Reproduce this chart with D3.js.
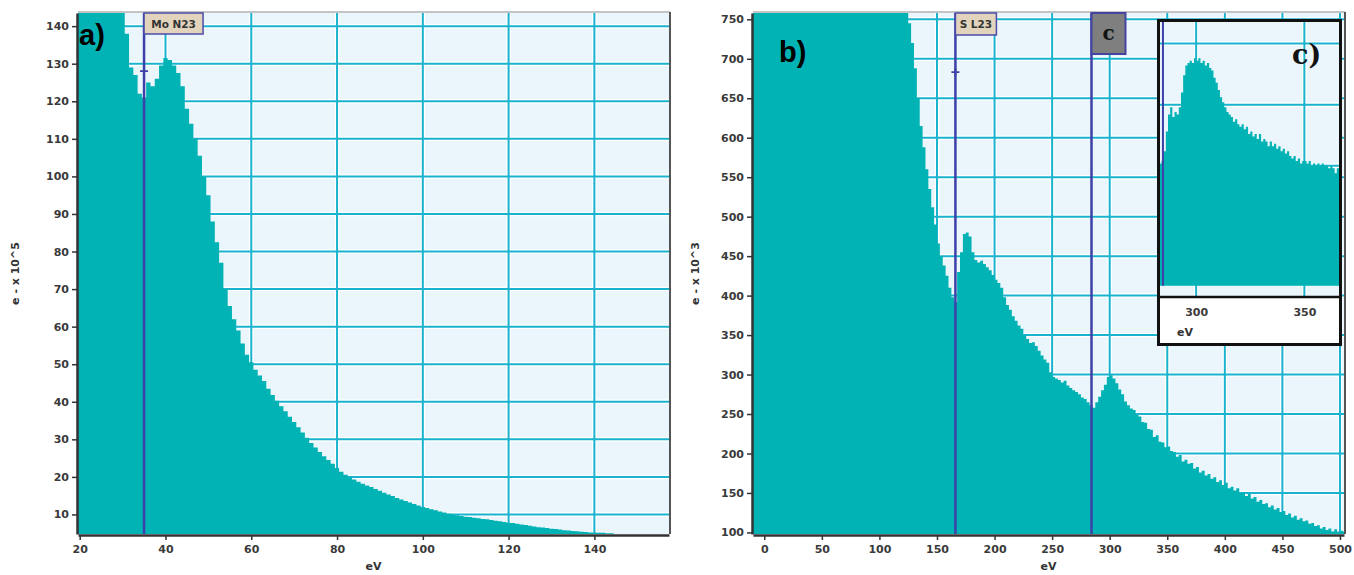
<!DOCTYPE html>
<html>
<head>
<meta charset="utf-8">
<script src="https://cdn.jsdelivr.net/npm/d3@7"></script>
<style>
  body { margin: 0; background: #fff; }
  text { font-family: "DejaVu Sans", sans-serif; }
</style>
</head>
<body>
<svg id="chart"></svg>
<script>
// Panel a: Mo N23 edge, 1 eV bins starting at 19.5 eV (counts in e- x 10^5)
const aBinStart = 19.5;
const aBinWidth = 1;
const aCounts = [
  190, 186, 182, 178, 174, 170, 166, 162, 158, 154, 150,
  138, 129, 127, 122, 121, 125, 124, 126, 129.5, 131.5,
  131, 129.5, 127.5, 124, 118, 114, 110, 105.5, 100, 95,
  88, 82.5, 77, 70, 65.5, 62, 59, 55.5, 52.5, 50.5,
  48.5, 47, 45.5, 43.5, 41.8, 40.3, 38.8, 37.5, 36, 34.6,
  33.2, 31.8, 30.4, 29, 27.8, 26.6, 25.5, 24.5, 23.5, 22.4,
  21.4, 20.6, 19.9, 19.3, 18.7, 18.2, 17.7, 17.3, 16.8, 16.3,
  15.8, 15.3, 14.9, 14.4, 14.0, 13.6, 13.2, 12.8, 12.4, 12.0,
  11.7, 11.4, 11.1, 10.8, 10.5, 10.2, 10.0, 9.8, 9.6, 9.4,
  9.3, 9.1, 9.0, 8.8, 8.7, 8.5, 8.3, 8.2, 8.0, 7.8,
  7.7, 7.5, 7.3, 7.2, 7.0, 6.8, 6.6, 6.5, 6.4, 6.2,
  6.1, 6.0, 5.8, 5.7, 5.6, 5.5, 5.4, 5.3, 5.2, 5.2,
  5.1, 5.1, 5.0, 5.0
];
const aYTicks = [10, 20, 30, 40, 50, 60, 70, 80, 90, 100, 110, 120, 130, 140];
const aXTicks = [20, 40, 60, 80, 100, 120, 140];

// Panel b: S L23 edge, 2.5 eV bins starting at -10 eV (counts in e- x 10^3)
const bBinStart = -10;
const bBinWidth = 2.5;
const bCounts = [
  1500, 1800, 2100, 2300, 2400, 2300, 2100, 1900, 1750, 1650,
  1600, 1580, 1560, 1540, 1520, 1500, 1480, 1460, 1440, 1420,
  1400, 1380, 1360, 1340, 1320, 1300, 1280, 1260, 1240, 1220,
  1200, 1180, 1160, 1140, 1110, 1080, 1050, 1020, 1000, 980,
  960, 940, 920, 900, 880, 865, 850, 835, 820, 805,
  792, 780, 770, 762,
  745, 720, 688, 650, 615, 588, 560, 535, 512, 490,
  466, 450, 438, 425, 410, 398, 392, 430, 455, 478,
  480, 475, 455, 445, 442, 444, 440, 436, 432, 426,
  420, 416, 410, 398, 388, 382, 374, 368, 362, 358,
  350, 345, 340, 341, 336, 330, 324, 319, 315, 303,
  297, 295, 293, 290, 292, 286, 283, 280, 278, 275,
  271, 269, 265, 261, 258, 265, 272, 280, 287, 297,
  299, 295, 289, 281, 275, 266, 261, 257, 255, 249,
  247, 240, 239, 231, 230, 221, 223, 215, 214, 208,
  209, 203, 202, 196, 198, 190, 192, 187, 188, 181,
  183, 176, 178, 172, 174, 168, 170, 164, 166, 160,
  163, 156, 158, 153, 156, 150, 151, 146, 149, 143,
  145, 139, 141, 136, 137, 132, 134, 129, 131, 126,
  127, 122, 124, 119, 121, 116, 118, 114, 115, 111,
  112, 108, 109, 105, 107, 103, 105, 101, 104, 100,
  102, 101
];
const bYTicks = [100, 150, 200, 250, 300, 350, 400, 450, 500, 550, 600, 650, 700, 750];
const bXTicks = [0, 50, 100, 150, 200, 250, 300, 350, 400, 450, 500];

// Inset c: zoom on the C K region, 1 eV bins starting at 283 eV
const cBinStart = 283;
const cBinWidth = 1;
const cCounts = [
  251, 252, 256, 264, 271, 274, 270, 272, 271, 274,
  280, 287, 291, 292, 293, 292, 294, 293, 294, 292,
  293, 291, 292, 290, 289, 286, 284, 281, 278, 276,
  274, 272, 271, 270, 268, 269, 267, 266, 267, 265,
  266, 263, 264, 262, 263, 261, 263, 260, 261, 260,
  258, 260, 258, 259, 257, 258, 256, 257, 255, 256,
  254, 253, 254, 252, 253, 251, 252, 252, 251, 252,
  250, 251, 250, 251, 250, 251, 250, 250, 249, 250,
  249, 247, 249, 249
];
const cBaseline = 201;
const cYTicks = [225, 250, 275, 300];
const cXTicks = [300, 350];

// Edge markers
const aMarker = { label: "Mo N23", energy: 35, value: 128 };
const bMarker = { label: "S L23", energy: 166, value: 683 };
const cMarker = { label: "c", energy: 284.2 };

const width = 1354, height = 575;
const fillColor = "#02b3b5";
const gridColor = "#1ab3cf";
const plotBg = "#eaf6fc";
const markerColor = "#3d40a8";

const svg = d3.select("#chart").attr("width", width).attr("height", height);

function toBins(start, w, counts) {
  const pts = counts.map((c, i) => ({ e: start + i * w, v: c }));
  pts.push({ e: start + counts.length * w, v: counts[counts.length - 1] });
  return pts;
}

function drawGrid(g, x, y, xTicks, yTicks, box) {
  const lines = [];
  yTicks.forEach(t => lines.push([box.x0, y(t), box.x1, y(t)]));
  xTicks.forEach(t => lines.push([x(t), box.y0, x(t), box.y1]));
  g.selectAll(null).data(lines).enter().append("line")
    .attr("x1", d => d[0]).attr("y1", d => d[1]).attr("x2", d => d[2]).attr("y2", d => d[3])
    .attr("stroke", "#ffffff").attr("stroke-width", 4.5);
  g.selectAll(null).data(lines).enter().append("line")
    .attr("x1", d => d[0]).attr("y1", d => d[1]).attr("x2", d => d[2]).attr("y2", d => d[3])
    .attr("stroke", gridColor).attr("stroke-width", 2);
}

function drawPanel(p) {
  const box = p.box;
  const x = d3.scaleLinear().domain(p.xDomain).range([box.x0, box.x1]);
  const y = d3.scaleLinear().domain(p.yDomain).range([box.y1, box.y0]);
  const g = svg.append("g");

  g.append("rect").attr("x", box.x0).attr("y", box.y0)
    .attr("width", box.x1 - box.x0).attr("height", box.y1 - box.y0).attr("fill", plotBg);

  drawGrid(g, x, y, p.xTicks, p.yTicks, box);

  g.append("clipPath").attr("id", p.id + "-clip").append("rect")
    .attr("x", box.x0).attr("y", box.y0)
    .attr("width", box.x1 - box.x0).attr("height", box.y1 - box.y0);

  const area = d3.area().curve(d3.curveStepAfter)
    .x(d => x(d.e)).y0(box.y1).y1(d => y(d.v));
  g.append("path").datum(p.bins).attr("clip-path", `url(#${p.id}-clip)`)
    .attr("fill", fillColor).attr("d", area);

  // frame: light top, dark right
  g.append("line").attr("x1", box.x0).attr("x2", box.x1 + 1).attr("y1", box.y0 - 1).attr("y2", box.y0 - 1)
    .attr("stroke", "#b0b0b0").attr("stroke-width", 1.5);
  g.append("line").attr("x1", box.x1 + 1).attr("x2", box.x1 + 1).attr("y1", box.y0 - 1).attr("y2", box.y1)
    .attr("stroke", "#555").attr("stroke-width", 2);

  // axes
  const yAxis = g.append("g").attr("transform", `translate(${box.x0 - 1},0)`)
    .call(d3.axisLeft(y).tickValues(p.yTicks).tickSize(5).tickPadding(3).tickSizeOuter(0));
  const xAxis = g.append("g").attr("transform", `translate(0,${box.y1 + 1})`)
    .call(d3.axisBottom(x).tickValues(p.xTicks).tickSize(5).tickPadding(5).tickSizeOuter(0));
  [yAxis, xAxis].forEach(a => {
    a.select(".domain").attr("stroke", "#333").attr("stroke-width", 2.5);
    a.selectAll(".tick line").attr("stroke", "#333").attr("stroke-width", 1.5);
    a.selectAll(".tick text").attr("fill", "#3a3a3a").style("font-size", "11px").style("font-weight", "bold");
  });

  g.append("text").attr("x", (box.x0 + box.x1) / 2).attr("y", 570)
    .attr("text-anchor", "middle").attr("fill", "#333")
    .style("font-size", "11px").style("font-weight", "bold").text("eV");

  g.append("text")
    .attr("transform", `translate(${p.yLabelX},${(box.y0 + box.y1) / 2}) rotate(-90)`)
    .attr("text-anchor", "middle").attr("dy", "0.35em").attr("fill", "#333")
    .style("font-size", "11px").style("font-weight", "bold").text(p.yLabel);

  return { g, x, y };
}

function drawMarker(panel, box, m, withCross) {
  const { g, x, y } = panel;
  const mx = x(m.energy);
  g.append("line").attr("x1", mx).attr("x2", mx).attr("y1", box.y0).attr("y2", box.y1)
    .attr("stroke", markerColor).attr("stroke-width", 2.5);
  if (withCross) {
    const my = y(m.value);
    g.append("path").attr("d", `M${mx - 4},${my}H${mx + 4}M${mx},${my - 4}V${my + 4}`)
      .attr("stroke", markerColor).attr("stroke-width", 1.8);
  }
}

// ---- panel a
const aBox = { x0: 78, x1: 669, y0: 13, y1: 534 };
const pa = drawPanel({
  id: "a", box: aBox, xDomain: [19.6, 157.4], yDomain: [4.8, 143.5],
  xTicks: aXTicks, yTicks: aYTicks, bins: toBins(aBinStart, aBinWidth, aCounts),
  yLabel: "e - x 10^5", yLabelX: 15
});
drawMarker(pa, aBox, aMarker, true);
pa.g.append("rect").attr("x", pa.x(aMarker.energy)).attr("y", 13).attr("width", 59).attr("height", 21)
  .attr("fill", "#e2d3bd").attr("stroke", "#4c4ca8").attr("stroke-width", 1.5);
pa.g.append("text").attr("x", pa.x(aMarker.energy) + 29.5).attr("y", 27.5).attr("text-anchor", "middle")
  .attr("fill", "#333").style("font-size", "10.5px").style("font-weight", "bold").text(aMarker.label);
pa.g.append("text").attr("x", 79).attr("y", 45).attr("fill", "#000")
  .style("font-family", "Liberation Sans, Arial, sans-serif").style("font-size", "29px").style("font-weight", "bold").text("a)");

// ---- panel b
const bBox = { x0: 753, x1: 1344, y0: 13, y1: 534 };
const pb = drawPanel({
  id: "b", box: bBox, xDomain: [-9.8, 503.5], yDomain: [98, 758],
  xTicks: bXTicks, yTicks: bYTicks, bins: toBins(bBinStart, bBinWidth, bCounts),
  yLabel: "e - x 10^3", yLabelX: 695
});
drawMarker(pb, bBox, bMarker, true);
pb.g.append("rect").attr("x", pb.x(bMarker.energy)).attr("y", 13).attr("width", 41).attr("height", 22)
  .attr("fill", "#e2d3bd").attr("stroke", "#4c4ca8").attr("stroke-width", 1.5);
pb.g.append("text").attr("x", pb.x(bMarker.energy) + 20.5).attr("y", 28).attr("text-anchor", "middle")
  .attr("fill", "#333").style("font-size", "10.5px").style("font-weight", "bold").text(bMarker.label);
drawMarker(pb, bBox, cMarker, false);
pb.g.append("rect").attr("x", pb.x(cMarker.energy)).attr("y", 13).attr("width", 34).attr("height", 41)
  .attr("fill", "#7f7f7f").attr("stroke", "#4444a0").attr("stroke-width", 2);
pb.g.append("text").attr("x", pb.x(cMarker.energy) + 17).attr("y", 40).attr("text-anchor", "middle")
  .attr("fill", "#111").style("font-family", "DejaVu Serif, serif").style("font-size", "20px")
  .style("font-weight", "bold").text("c");
pb.g.append("text").attr("x", 779).attr("y", 62).attr("fill", "#000")
  .style("font-family", "Liberation Sans, Arial, sans-serif").style("font-size", "29px").style("font-weight", "bold").text("b)");

// ---- inset c
const cBox = { x0: 1160, x1: 1339, y0: 22, y1: 296 };
const ci = svg.append("g");
ci.append("rect").attr("x", 1158.5).attr("y", 20.5).attr("width", 182).attr("height", 324)
  .attr("fill", "#fff").attr("stroke", "#111").attr("stroke-width", 3);
const cx = d3.scaleLinear().domain([283.3, 366]).range([cBox.x0, cBox.x1]);
const cy = d3.scaleLinear().domain([196.8, 308.8]).range([cBox.y1, cBox.y0]);
ci.append("rect").attr("x", cBox.x0).attr("y", cBox.y0)
  .attr("width", cBox.x1 - cBox.x0).attr("height", cBox.y1 - cBox.y0).attr("fill", plotBg);
drawGrid(ci, cx, cy, cXTicks, cYTicks, cBox);
ci.append("clipPath").attr("id", "c-clip").append("rect")
  .attr("x", cBox.x0).attr("y", cBox.y0).attr("width", cBox.x1 - cBox.x0).attr("height", cBox.y1 - cBox.y0);
ci.append("path").datum(toBins(cBinStart, cBinWidth, cCounts)).attr("clip-path", "url(#c-clip)")
  .attr("fill", fillColor)
  .attr("d", d3.area().curve(d3.curveStepAfter).x(d => cx(d.e)).y0(cy(cBaseline)).y1(d => cy(d.v)));
ci.append("line").attr("x1", cx(cMarker.energy) + 1).attr("x2", cx(cMarker.energy) + 1)
  .attr("y1", cBox.y0).attr("y2", cy(cBaseline)).attr("stroke", markerColor).attr("stroke-width", 2);
ci.append("line").attr("x1", 1158).attr("x2", 1341).attr("y1", cBox.y1 + 1).attr("y2", cBox.y1 + 1)
  .attr("stroke", "#111").attr("stroke-width", 2.5);
const cAxis = ci.append("g").attr("transform", `translate(0,${cBox.y1 + 2})`)
  .call(d3.axisBottom(cx).tickValues(cXTicks).tickSize(0).tickPadding(10));
cAxis.select(".domain").remove();
cAxis.selectAll(".tick text").attr("fill", "#3a3a3a").style("font-size", "11px").style("font-weight", "bold");
ci.append("text").attr("x", 1185).attr("y", 336).attr("text-anchor", "middle").attr("fill", "#333")
  .style("font-size", "11px").style("font-weight", "bold").text("eV");
ci.append("text").attr("x", 1292).attr("y", 64).attr("fill", "#111")
  .style("font-family", "DejaVu Serif, serif").style("font-size", "27px").style("font-weight", "bold").text("c)");
</script>
</body>
</html>
